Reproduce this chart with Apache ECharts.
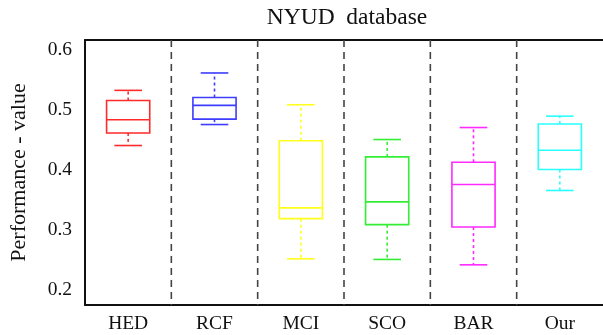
<!DOCTYPE html>
<html>
<head>
<meta charset="utf-8">
<script src="https://cdn.jsdelivr.net/npm/echarts@6/dist/echarts.min.js"></script>
<style>
html,body{margin:0;padding:0;background:#fff;overflow:hidden;}
#c{width:603px;height:335px;}
</style>
</head>
<body>
<div id="c"></div>
<script>
var categories = ['HED', 'RCF', 'MCI', 'SCO', 'BAR', 'Our'];
var whiskerLow  = [0.441, 0.476, 0.252, 0.251, 0.242, 0.366];
var q1          = [0.462, 0.485, 0.319, 0.309, 0.305, 0.401];
var median      = [0.484, 0.508, 0.337, 0.347, 0.376, 0.433];
var q3          = [0.516, 0.521, 0.449, 0.422, 0.413, 0.477];
var whiskerHigh = [0.533, 0.562, 0.509, 0.451, 0.471, 0.490];
var colors = ['#ff2a2a', '#3d3dff', '#ffff1a', '#33ee33', '#ff2aff', '#2affff'];

var yMin = 0.175, yMax = 0.617;

var data = categories.map(function (c, i) {
  return [i, whiskerLow[i], q1[i], median[i], q3[i], whiskerHigh[i]];
});

function renderItem(params, api) {
  var idx = api.value(0);
  var band = api.size([1, 0])[0];
  var boxW = band * 0.5;
  var capW = band * 0.16;
  var pLow = api.coord([idx, api.value(1)]);
  var pQ1 = api.coord([idx, api.value(2)]);
  var pMed = api.coord([idx, api.value(3)]);
  var pQ3 = api.coord([idx, api.value(4)]);
  var pHigh = api.coord([idx, api.value(5)]);
  var pTop = api.coord([idx, yMax]);
  var pBot = api.coord([idx, yMin]);
  var x = pMed[0];
  var col = colors[idx];
  var solid = {stroke: col, lineWidth: 1.6, fill: null};
  var dashed = {stroke: col, lineWidth: 1.6, lineDash: [3, 3]};
  var children = [];
  if (idx > 0) {
    children.push({type: 'line', shape: {x1: x - band / 2, y1: pTop[1], x2: x - band / 2, y2: pBot[1]},
      style: {stroke: '#444', lineWidth: 1.6, lineDash: [7, 5]}});
  }
  children.push(
    {type: 'rect', shape: {x: x - boxW / 2, y: pQ3[1], width: boxW, height: pQ1[1] - pQ3[1]}, style: {stroke: col, lineWidth: 1.6, fill: 'rgba(0,0,0,0)'}},
    {type: 'line', shape: {x1: x - boxW / 2, y1: pMed[1], x2: x + boxW / 2, y2: pMed[1]}, style: solid},
    {type: 'line', shape: {x1: x, y1: pQ3[1], x2: x, y2: pHigh[1]}, style: dashed},
    {type: 'line', shape: {x1: x, y1: pQ1[1], x2: x, y2: pLow[1]}, style: dashed},
    {type: 'line', shape: {x1: x - capW, y1: pHigh[1], x2: x + capW, y2: pHigh[1]}, style: solid},
    {type: 'line', shape: {x1: x - capW, y1: pLow[1], x2: x + capW, y2: pLow[1]}, style: solid}
  );
  return {type: 'group', children: children};
}

var serif = '"Liberation Serif", "DejaVu Serif", serif';
var chart = echarts.init(document.getElementById('c'), null, {renderer: 'canvas'});
chart.setOption({
  animation: false,
  backgroundColor: '#fff',
  title: {
    text: 'NYUD  database',
    left: 342,
    textAlign: 'center',
    top: 1,
    textStyle: {fontFamily: serif, fontSize: 23.5, fontWeight: 'normal', color: '#111'}
  },
  grid: {
    left: 80, top: 40, width: 525, height: 265, show: false
  },
  xAxis: [{
    type: 'category',
    data: categories,
    boundaryGap: true,
    axisLine: {show: true, lineStyle: {color: '#111', width: 2}},
    axisTick: {show: false},
    axisLabel: {fontFamily: serif, fontSize: 19.5, color: '#111', margin: 9, interval: 0},
    splitLine: {show: false}
  }, {
    type: 'category',
    position: 'top',
    data: categories,
    axisLine: {show: true, lineStyle: {color: '#111', width: 2}},
    axisTick: {show: false},
    axisLabel: {show: false},
    splitLine: {show: false}
  }],
  yAxis: {
    type: 'value',
    min: yMin,
    max: yMax,
    splitNumber: 4,
    name: 'Performance - value',
    nameLocation: 'middle',
    nameGap: 55,
    nameRotate: 90,
    nameTextStyle: {fontFamily: serif, fontSize: 22, color: '#111'},
    axisLine: {show: true, lineStyle: {color: '#111', width: 2}},
    axisTick: {show: false},
    splitLine: {show: false},
    axisLabel: {
      fontFamily: serif, fontSize: 19.5, color: '#111', margin: 13,
      formatter: function (v) {
        return Math.abs(v * 10 - Math.round(v * 10)) < 1e-6 ? v.toFixed(1) : '';
      }
    }
  },
  series: [{
    type: 'custom',
    renderItem: renderItem,
    clip: false,
    encode: {x: 0, y: [1, 2, 3, 4, 5]},
    data: data
  }]
});
</script>
</body>
</html>
